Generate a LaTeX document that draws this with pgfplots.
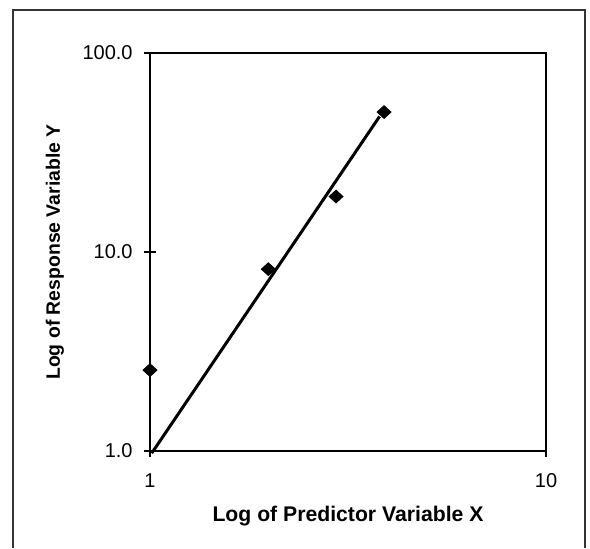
\documentclass[border=0pt]{standalone}
\usepackage{fontspec}
\setmainfont{Liberation Sans}
\usepackage{pgfplots}
\pgfplotsset{compat=1.18}
\begin{document}
\begin{tikzpicture}
\useasboundingbox (0,0) rectangle (295pt,274pt);
% outer frame
\draw[line width=0.6pt, black!80] (6.5pt,0) -- (6.5pt,269pt) -- (292.5pt,269pt) -- (292.5pt,0);
\begin{axis}[
  at={(75pt,48.5pt)}, anchor=south west,
  scale only axis, width=198pt, height=199pt,
  xmode=log, ymode=log,
  xmin=1, xmax=10, ymin=1, ymax=100,
  xtick={1,10}, xticklabels={1,10},
  ytick={1,10,100}, yticklabels={1.0,10.0,100.0},
  minor tick style={draw=none},
  xtick pos=bottom, ytick pos=left,
  tick align=center, major tick length=6pt,
  axis line style={line width=1pt},
  every tick/.style={black, line width=0.8pt},
  /pgf/number format/assume math mode=true,
  tick label style={font=\fontsize{10}{12}\selectfont},
  yticklabel style={inner sep=0pt, xshift=-5.5pt},
  xticklabel style={inner sep=0pt, yshift=-8pt},
  xlabel={Log of Predictor Variable X},
  ylabel={Log of Response Variable Y},
  xlabel style={font=\bfseries\fontsize{10.6}{12}\selectfont, at={(axis description cs:0.5,-0.163)}, anchor=center},
  ylabel style={font=\bfseries\fontsize{9.7}{12}\selectfont, at={(axis description cs:-0.24,0.5)}, anchor=center},
  clip=false,
]
\addplot[black, line width=1.5pt] coordinates {(1.01,0.975) (3.8,48)};
\addplot[only marks, mark=diamond*, mark size=3.2pt, mark options={xscale=1.45, fill=black, draw=black}] coordinates {
(1,2.55) (1.99,8.2) (2.95,19) (3.9,50.5)};
\end{axis}
\end{tikzpicture}
\end{document}
